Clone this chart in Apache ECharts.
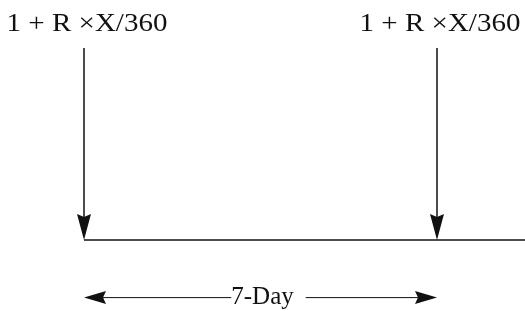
<!DOCTYPE html>
<html>
<head>
<meta charset="utf-8">
<script src="https://cdn.jsdelivr.net/npm/echarts@6/dist/echarts.min.js"></script>
<style>
  html, body { margin: 0; padding: 0; background: #fff; }
  #main { width: 525px; height: 311px; }
</style>
</head>
<body>
<div id="main"></div>
<script>
// cash flows on the timeline (day, height of the flow arrow, label)
const flowDays = [0, 7];
const flowLevels = [1, 1];
const flowLabels = ["1 + R \u00d7X/360", "1 + R \u00d7X/360"];

// timeline runs past the second flow
const timelineStart = 0;
const timelineEnd = 8.75;

// the period marker under the timeline
const spanDays = [0, 7];
const spanLevel = -0.3;
const spanLabel = "7-Day";

const ink = "#111";
const serif = "'Liberation Serif', 'Times New Roman', serif";

const chart = echarts.init(document.getElementById("main"));

// arrow pointing down, tip at (x, y)
const downHead = (x, y) => [[x, y], [x - 7, y - 26], [x, y - 23], [x + 7, y - 26]];
// arrow pointing left / right, tip at (x, y)
const sideHead = (x, y, dir) => [[x, y], [x - dir * 22, y - 6.5], [x - dir * 19, y], [x - dir * 22, y + 6.5]];

const flowSeries = {
  type: "custom",
  data: flowDays.map((d, i) => [d, flowLevels[i], flowLabels[i]]),
  renderItem: (params, api) => {
    const top = api.coord([api.value(0), api.value(1)]);
    const base = api.coord([api.value(0), 0]);
    return {
      type: "group",
      children: [
        {
          type: "line",
          shape: { x1: top[0], y1: top[1], x2: base[0], y2: base[1] - 20 },
          style: { stroke: ink, lineWidth: 1.5 }
        },
        {
          type: "polygon",
          shape: { points: downHead(base[0], base[1]) },
          style: { fill: ink }
        },
        {
          type: "text",
          x: top[0] + 3,
          y: top[1] - 24,
          scaleX: 1.16,
          style: {
            text: flowLabels[params.dataIndex],
            font: "25px " + serif,
            fill: ink,
            align: "center",
            verticalAlign: "middle"
          }
        }
      ]
    };
  }
};

const timelineSeries = {
  type: "custom",
  data: [[timelineStart, timelineEnd]],
  renderItem: (params, api) => {
    const a = api.coord([api.value(0), 0]);
    const b = api.coord([api.value(1), 0]);
    return {
      type: "line",
      shape: { x1: a[0], y1: a[1], x2: b[0], y2: b[1] },
      style: { stroke: ink, lineWidth: 1.3 }
    };
  }
};

const spanSeries = {
  type: "custom",
  data: [[spanDays[0], spanDays[1], spanLevel]],
  renderItem: (params, api) => {
    const a = api.coord([api.value(0), api.value(2)]);
    const b = api.coord([api.value(1), api.value(2)]);
    const mid = (a[0] + b[0]) / 2;
    return {
      type: "group",
      children: [
        {
          type: "line",
          shape: { x1: a[0] + 18, y1: a[1], x2: b[0] - 18, y2: b[1] },
          style: { stroke: ink, lineWidth: 1 }
        },
        { type: "polygon", shape: { points: sideHead(a[0], a[1], -1) }, style: { fill: ink } },
        { type: "polygon", shape: { points: sideHead(b[0], b[1], 1) }, style: { fill: ink } },
        {
          type: "text",
          x: mid + 8,
          y: a[1],
          style: {
            text: spanLabel,
            font: "25px " + serif,
            fill: ink,
            align: "center",
            verticalAlign: "middle",
            backgroundColor: "#fff",
            padding: [0, 12, 0, 0]
          }
        }
      ]
    };
  }
};

chart.setOption({
  animation: false,
  backgroundColor: "#fff",
  grid: { left: 84, right: 88, top: 48, bottom: 71 },
  xAxis: { type: "value", min: 0, max: 7, show: false },
  yAxis: { type: "value", min: 0, max: 1, show: false },
  series: [timelineSeries, flowSeries, spanSeries]
});
</script>
</body>
</html>
